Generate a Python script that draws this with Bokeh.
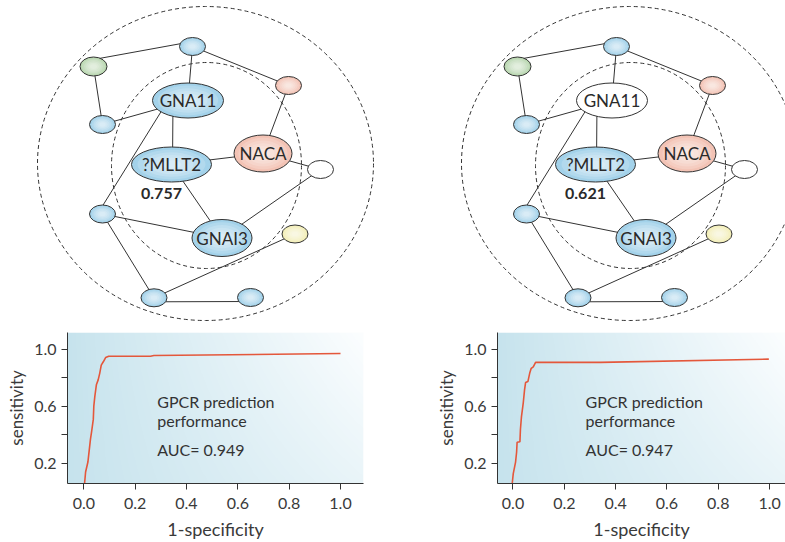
import numpy as np
from bokeh.plotting import figure
from bokeh.layouts import column, row
from bokeh.models import Range1d, FixedTicker
from bokeh.embed import file_html
from bokeh.resources import INLINE
from bokeh.core.properties import value

FONT = "Lato"
INK = "#333333"

# ---------------- network data (shared layout of both panels) ----------------
node_x = [192, 93, 288, 187.5, 102, 171, 262.5, 320, 102, 221.5, 294.5, 153.5, 250]
node_y = [46, 66, 85, 100, 124, 164, 153, 169, 213.5, 237.5, 233.5, 297.3, 297]
node_w = [26, 27, 26, 71, 26, 80, 58, 26, 26, 60, 26, 26, 26]
node_h = [18, 19, 18, 35, 18, 35, 37, 18, 18, 37, 18, 18, 18]
node_labels = ["", "", "", "GNA11", "", "?MLLT2", "NACA", "", "", "GNAI3", "", "", ""]
kinds_left = ["blue", "green", "pink", "blue", "blue", "blue", "pink", "white",
              "blue", "blue", "yellow", "blue", "blue"]
kinds_right = ["blue", "green", "pink", "white", "blue", "blue", "pink", "white",
               "blue", "blue", "yellow", "blue", "blue"]
edge_a = [0, 0, 0, 1, 4, 3, 3, 5, 6, 6, 5, 9, 9, 8, 11, 11]
edge_b = [1, 2, 3, 4, 3, 5, 8, 6, 2, 7, 9, 7, 8, 11, 10, 12]
# attachment offsets of each edge end relative to the node centre
edge_a_dx = [0, 0, 0, 0, 0, -15, -20, 0, 0, 0, 0, 0, 0, 0, 0, 0]
edge_a_dy = [-5, 0, 0, 0, 0, 0, 0, 0, 0, 0, 0, 0, 0, 0, 0, 4]
edge_b_dx = [0, 0, 0, 0, 0, 1, -5, 0, 0, 0, 0, 0, 0, 0, 0, 0]
edge_b_dy = [-7, 0, 0, 0, 0, 0, 0, 0, 0, 0, 0, 0, 0, 0, 0, 4]
ring_x = [205, 206]
ring_y = [163, 165]
ring_w = [336, 190]
ring_h = [314, 206]
score_node = 5
score_dx, score_dy = -10, 29
score_left = "0.757"
score_right = "0.621"
panel_shift = 424

node_colors = {"blue": "#a3d2ea", "green": "#b9d7b0", "pink": "#f3c3b5",
               "yellow": "#f3efb8", "white": "#ffffff"}

# ---------------- ROC data ----------------
roc1_fpr = [0.003, 0.007, 0.016, 0.026, 0.030, 0.037, 0.039, 0.043, 0.049, 0.056,
            0.062, 0.068, 0.076, 0.085, 0.097, 0.260, 0.273, 1.0]
roc1_tpr = [0.056, 0.137, 0.207, 0.368, 0.415, 0.507, 0.600, 0.669, 0.750, 0.785,
            0.831, 0.889, 0.912, 0.942, 0.951, 0.951, 0.956, 0.970]
roc2_fpr = [-0.003, 0.001, 0.010, 0.014, 0.016, 0.027, 0.029, 0.033, 0.040, 0.045,
            0.049, 0.058, 0.065, 0.071, 0.079, 0.088, 0.341, 0.997]
roc2_tpr = [0.056, 0.126, 0.207, 0.276, 0.346, 0.350, 0.438, 0.526, 0.623, 0.715,
            0.766, 0.773, 0.831, 0.866, 0.877, 0.908, 0.908, 0.931]
roc_text = ["GPCR prediction", "performance"]
auc_left = "AUC= 0.949"
auc_right = "AUC= 0.947"
x_ticks = [0.0, 0.2, 0.4, 0.6, 0.8, 1.0]
x_tick_labels = ["0.0", "0.2", "0.4", "0.6", "0.8", "1.0"]
y_ticks = [0.2, 0.4, 0.6, 0.8, 1.0]
y_tick_labels = ["0.2", "", "0.6", "", "1.0"]


def network(width, x0, x1, kinds, score):
    p = figure(width=width, height=326, x_range=Range1d(x0, x1), y_range=Range1d(326, 0),
               output_backend="svg", toolbar_location=None, min_border=0)
    p.axis.visible = False
    p.grid.visible = False
    p.outline_line_color = None
    p.ellipse(x=ring_x, y=ring_y, width=ring_w, height=ring_h, fill_color=None,
              line_color=INK, line_width=1, line_dash="4 3")
    n = len(edge_a)
    p.segment(x0=[node_x[edge_a[i]] + edge_a_dx[i] for i in range(n)],
              y0=[node_y[edge_a[i]] + edge_a_dy[i] for i in range(n)],
              x1=[node_x[edge_b[i]] + edge_b_dx[i] for i in range(n)],
              y1=[node_y[edge_b[i]] + edge_b_dy[i] for i in range(n)],
              line_color=INK, line_width=1)
    p.ellipse(x=node_x, y=node_y, width=node_w, height=node_h,
              fill_color=[node_colors[k] for k in kinds], line_color=INK, line_width=1)
    for f in [0.85, 0.7, 0.55, 0.4, 0.25]:
        p.ellipse(x=node_x, y=node_y, width=[w * f for w in node_w],
                  height=[h * f for h in node_h], fill_color="white",
                  fill_alpha=0.17, line_color=None)
    p.text(x=node_x, y=node_y, text=node_labels, text_font=value(FONT),
           text_font_size="17px", text_color="#2a2a2a", text_align="center",
           text_baseline="middle")
    p.text(x=[node_x[score_node] + score_dx], y=[node_y[score_node] + score_dy],
           text=[score], text_font=value(FONT), text_font_size="16px",
           text_font_style="bold", text_color="#2a2a2a", text_align="center",
           text_baseline="middle")
    return p


def roc(width, xr, bl, br, fpr, tpr, tx, auc):
    yr = (0.0562, 1.118)
    p = figure(width=width, height=216, x_range=Range1d(*xr), y_range=Range1d(*yr),
               output_backend="svg", toolbar_location=None,
               min_border_left=bl, min_border_right=br, min_border_top=6,
               min_border_bottom=57)
    p.grid.visible = False
    p.outline_line_color = None
    nx, ny = 300, 160
    X, Y = np.meshgrid(np.linspace(0, 1, nx), np.linspace(0, 1, ny))
    t = np.clip(X * (0.62 + 0.38 * Y), 0, 1) ** 0.9
    dark = np.array([198, 227, 237])
    light = np.array([252, 254, 255])
    img = np.empty((ny, nx), dtype=np.uint32)
    v = img.view(dtype=np.uint8).reshape((ny, nx, 4))
    for c in range(3):
        v[..., c] = (dark[c] + (light[c] - dark[c]) * t).astype(np.uint8)
    v[..., 3] = 255
    p.image_rgba(image=[img], x=xr[0], y=yr[0], dw=xr[1] - xr[0], dh=yr[1] - yr[0],
                 level="image")
    p.line(fpr, tpr, line_color="#e4573b", line_width=1.6)
    p.text(x=[tx] * 3, y=[0.632, 0.500, 0.294], text=roc_text + [auc],
           text_font=value(FONT), text_font_size="16px", text_color=INK,
           text_baseline="alphabetic")
    for ax in (p.xaxis[0], p.yaxis[0]):
        ax.axis_line_color = INK
        ax.major_tick_line_color = INK
        ax.minor_tick_line_color = None
        ax.major_tick_in = 0
        ax.major_tick_out = 6
        ax.major_label_text_font = FONT
        ax.major_label_text_font_size = "16px"
        ax.major_label_text_color = "#3a3a3a"
        ax.axis_label_text_font = FONT
        ax.axis_label_text_font_style = "normal"
        ax.axis_label_text_color = "#3a3a3a"
        ax.major_label_standoff = 5
    p.xaxis[0].ticker = FixedTicker(ticks=x_ticks)
    p.xaxis[0].major_label_overrides = dict(zip(x_ticks, x_tick_labels))
    p.xaxis[0].axis_label = "1-specificity"
    p.xaxis[0].axis_label_text_font_size = "18px"
    p.xaxis[0].major_label_standoff = 8
    p.xaxis[0].axis_label_standoff = 6
    p.yaxis[0].ticker = FixedTicker(ticks=y_ticks)
    p.yaxis[0].major_label_overrides = dict(zip(y_ticks, y_tick_labels))
    p.yaxis[0].axis_label = "sensitivity"
    p.yaxis[0].axis_label_text_font_size = "17px"
    p.yaxis[0].axis_label_standoff = 4
    return p


net_l = network(392, 0, 392, kinds_left, score_left)
net_r = network(393, 392 - panel_shift, 785 - panel_shift, kinds_right, score_right)
roc_l = roc(430, (-0.0635, 1.0896), 67, 67, roc1_fpr, roc1_tpr, 0.286, auc_left)
roc_r = roc(355, (-0.0604, 1.062), 67, 0, roc2_fpr, roc2_tpr, 0.283, auc_right)

layout = column(row(net_l, net_r), row(roc_l, roc_r))
open("out.html", "w").write(file_html(layout, INLINE))
